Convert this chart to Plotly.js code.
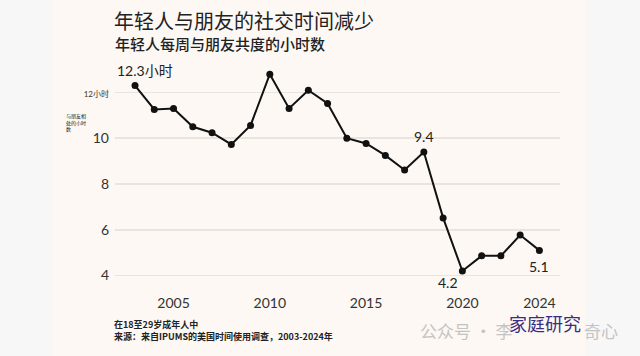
<!DOCTYPE html>
<html>
<head>
<meta charset="utf-8">
<script src="https://cdn.plot.ly/plotly-3.0.1.min.js"></script>
<style>html,body{margin:0;padding:0;background:#f7f7f7;}#chart{width:640px;height:356px;}</style>
</head>
<body>
<div id="chart"></div>
<script>
const years = [2003,2004,2005,2006,2007,2008,2009,2010,2011,2012,2013,2014,2015,2016,2017,2018,2019,2020,2021,2022,2023,2024];
const hours = [12.3,11.26,11.3,10.5,10.24,9.73,10.56,12.8,11.3,12.1,11.52,10.0,9.77,9.25,8.61,9.4,6.52,4.2,4.86,4.86,5.77,5.1];
const xTickVals = [2005,2010,2015,2020,2024];
const yTickVals = [4,6,8,10,12];
const yTickText = ['4','6','8','10','<span style="font-size:8px">12小时</span>'];
const titleText = '年轻人与朋友的社交时间减少';
const subtitleText = '年轻人每周与朋友共度的小时数';
const yAxisLabel = '与朋友相<br>处的小时<br>数';
const noteLines = ['在18至29岁成年人中', '来源：来自IPUMS的美国时间使用调查，2003-2024年'];
const callouts = [
  {year: 2003, text: '12.3小时', xs: 10, ys: 15},
  {year: 2018, text: '9.4', xs: 0, ys: 15},
  {year: 2020, text: '4.2', xs: -14, ys: -12},
  {year: 2024, text: '5.1', xs: 0, ys: -16}
];

const CJK = '"Noto Sans CJK SC", "Noto Sans", sans-serif';
const NUM = 'Lato, "Noto Sans CJK SC", sans-serif';

const annotations = callouts.map(c => ({
  x: c.year, y: hours[years.indexOf(c.year)], xref: 'x', yref: 'y',
  text: c.text, showarrow: false, xshift: c.xs, yshift: c.ys,
  font: {family: NUM, size: 14, color: '#222'}
}));
annotations.push(
  {xref: 'paper', yref: 'paper', x: -0.0045, y: 1.0946, xanchor: 'left', yanchor: 'middle',
   text: subtitleText, showarrow: false, font: {family: CJK, size: 15, color: '#222', weight: 500}},
  {xref: 'paper', yref: 'paper', x: -0.1146, y: 0.739, xanchor: 'left', yanchor: 'middle', align: 'left',
   text: yAxisLabel, showarrow: false, font: {family: CJK, size: 5, color: '#222'}},
  {xref: 'paper', yref: 'paper', x: -0.0067, y: -0.168, xanchor: 'left', yanchor: 'middle',
   text: noteLines[0], showarrow: false, font: {family: CJK, size: 9, color: '#222', weight: 'bold'}},
  {xref: 'paper', yref: 'paper', x: -0.0067, y: -0.224, xanchor: 'left', yanchor: 'middle',
   text: noteLines[1], showarrow: false, font: {family: CJK, size: 9, color: '#222', weight: 'bold'}},
  {xref: 'paper', yref: 'paper', x: 0.681, y: -0.1937, xanchor: 'left', yanchor: 'middle',
   text: '公众号 · 李', showarrow: false, font: {family: CJK, size: 17, color: '#c4c4c4'}},
  {xref: 'paper', yref: 'paper', x: 1.1348, y: -0.1937, xanchor: 'right', yanchor: 'middle',
   text: '奇心', showarrow: false, font: {family: CJK, size: 17, color: '#c4c4c4'}},
  {xref: 'paper', yref: 'paper', x: 0.880, y: -0.162, xanchor: 'left', yanchor: 'middle',
   text: '家庭研究', showarrow: false, font: {family: CJK, size: 18, color: '#3b2d80'}}
);

const trace = {
  x: years, y: hours, type: 'scatter', mode: 'lines+markers',
  line: {color: '#111', width: 2},
  marker: {color: '#111', size: 7},
  hoverinfo: 'x+y'
};

const layout = {
  width: 640, height: 356,
  margin: {l: 115, r: 80, t: 65, b: 69},
  paper_bgcolor: '#f7f7f7',
  plot_bgcolor: 'rgba(0,0,0,0)',
  showlegend: false,
  title: {text: titleText, xref: 'container', yref: 'container', x: 114/640, xanchor: 'left',
          y: 1 - 22/356, yanchor: 'middle', font: {family: CJK, size: 20, color: '#222'}},
  xaxis: {range: [2001.96, 2025.07], tickvals: xTickVals, showgrid: false, zeroline: false,
          showline: false, ticks: '', ticklabelstandoff: 6,
          tickfont: {family: NUM, size: 14, color: '#333'}},
  yaxis: {range: [3.5, 13.2], tickvals: yTickVals, ticktext: yTickText, showgrid: true,
          gridcolor: '#e9e4dd', gridwidth: 1.5, zeroline: false, showline: false, ticks: '',
          ticklabelstandoff: 5, tickfont: {family: NUM, size: 14, color: '#333'}},
  shapes: [{type: 'rect', xref: 'paper', yref: 'paper', x0: -0.1393, x1: 1.0562, y0: -0.4, y1: 1.4,
            fillcolor: '#fdf8f3', line: {width: 0}, layer: 'below'}],
  annotations: annotations
};

Plotly.newPlot('chart', [trace], layout, {displayModeBar: false, staticPlot: true});
</script>
</body>
</html>
